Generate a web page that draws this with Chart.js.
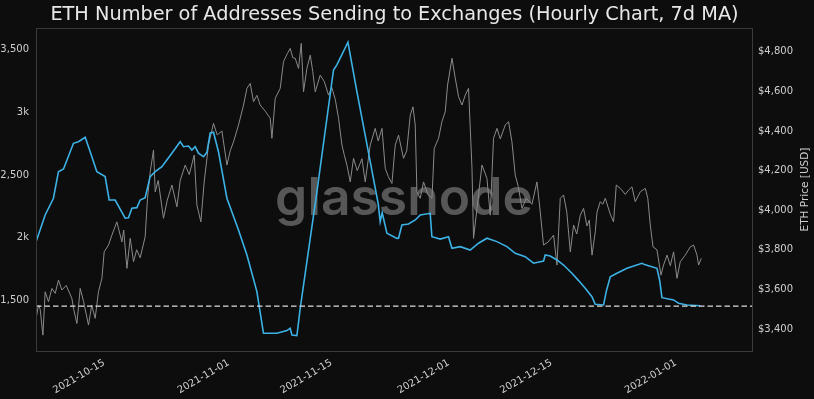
<!DOCTYPE html>
<html>
<head>
<meta charset="utf-8">
<script src="https://cdn.jsdelivr.net/npm/chart.js@4.4.1/dist/chart.umd.min.js"></script>
<style>
  html, body { margin: 0; padding: 0; background: #0d0d0d; }
  #wrap { width: 814px; height: 399px; }
</style>
</head>
<body>
<div id="wrap"><canvas id="chart" width="814" height="399"></canvas></div>
<script>
// x values are days since 2021-10-01 00:00
const addrDays = [
  4.72, 5.95, 7.08, 7.76, 8.45, 9.81, 10.49, 11.41, 12.09, 13.0,
  14.13, 14.68, 15.5, 16.86, 17.31, 17.78, 18.46, 18.91, 19.59, 20.27,
  20.96, 21.87, 23.23, 24.37, 24.82, 25.5, 25.96, 26.41, 26.86, 27.55,
  28.01, 28.46, 28.91, 29.59, 30.74, 32.32, 33.47, 34.83, 35.73, 37.56,
  38.92, 39.37, 39.61, 40.29, 40.74, 43.02, 45.28, 45.74, 47.25, 48.47,
  50.29, 51.38, 51.65, 51.92, 52.57, 53.93, 54.15, 54.61, 55.51, 56.43,
  57.11, 58.47, 58.7, 59.84, 60.97, 61.43, 62.57, 63.93, 65.06, 66.21,
  67.57, 68.94, 70.07, 71.43, 72.57, 73.93, 74.16, 74.84, 75.76, 76.66,
  77.8, 78.71, 79.62, 80.53, 80.98, 82.12, 82.48, 83.03, 83.94, 85.31,
  87.35, 87.81, 89.4, 89.76, 90.08, 91.67, 92.35, 93.49, 95.31
];
const addrValues = [
  1970, 2182, 2315, 2526, 2548, 2752, 2765, 2800, 2685, 2526,
  2487, 2301, 2301, 2156, 2160, 2235, 2240, 2301, 2320, 2487,
  2526, 2566, 2673, 2765, 2725, 2730, 2699, 2725, 2673, 2646,
  2680, 2835, 2840, 2685, 2315, 2063, 1864, 1572, 1241, 1241,
  1262, 1280, 1227, 1222, 1440, 2367, 3335, 3375, 3556, 3163,
  2606, 2270, 2128, 2200, 2036, 1996, 1997, 2102, 2110, 2142,
  2182, 2195, 2009, 1990, 2009, 1917, 1930, 1903, 1957, 1997,
  1970, 1930, 1877, 1850, 1798, 1816, 1864, 1855, 1824, 1784,
  1718, 1660, 1599, 1532, 1471, 1466, 1572, 1691, 1718, 1758,
  1798, 1785, 1758, 1665, 1524, 1506, 1479, 1466, 1460
];

const priceDays = [
  4.72, 5.04, 5.27, 5.64, 5.95, 6.40, 6.87, 7.32, 7.77, 8.23,
  8.82, 9.59, 9.84, 10.28, 10.73, 11.18, 11.86, 12.30, 12.77, 13.22,
  13.69, 14.00, 14.59, 15.05, 15.73, 16.42, 16.66, 17.10, 17.55, 18.00,
  18.43, 18.91, 19.59, 19.91, 20.28, 20.73, 20.96, 21.37, 22.09, 22.60,
  23.24, 23.92, 24.37, 25.05, 25.60, 26.28, 26.65, 27.19, 27.64, 28.23,
  28.91, 29.42, 30.06, 30.74, 31.19, 31.64, 32.32, 33.01, 33.47, 33.92,
  34.37, 34.83, 35.28, 35.97, 36.65, 36.88, 37.33, 38.01, 38.46, 38.97,
  39.38, 39.72, 40.06, 40.51, 40.88, 41.19, 41.65, 42.11, 42.45, 42.79,
  43.47, 44.02, 44.60, 45.04, 45.52, 45.97, 46.43, 46.74, 47.11, 47.56,
  48.01, 48.52, 49.16, 49.61, 50.29, 50.97, 51.38, 51.89, 52.34, 52.75,
  53.25, 53.70, 54.15, 54.83, 55.27, 55.75, 56.12, 56.43, 56.66, 57.11,
  57.56, 58.14, 58.71, 59.02, 59.61, 60.07, 60.52, 60.84, 61.44, 61.89,
  62.34, 62.80, 63.25, 63.70, 64.17, 64.38, 64.85, 65.53, 66.21, 66.66,
  67.11, 67.58, 68.03, 68.71, 69.16, 69.62, 70.07, 70.48, 70.99, 71.57,
  72.35, 73.03, 73.48, 73.93, 74.57, 75.30, 75.76, 76.21, 76.66, 77.10,
  77.58, 78.03, 78.46, 78.94, 79.39, 79.85, 80.17, 80.54, 80.99, 81.22,
  81.67, 82.01, 82.35, 83.03, 83.48, 83.85, 84.40, 85.08, 85.49, 85.99,
  86.44, 87.13, 87.81, 88.15, 88.49, 88.86, 89.40, 89.95, 90.30, 90.77,
  91.22, 91.67, 92.13, 92.58, 93.26, 93.95, 94.40, 94.86, 95.08, 95.45
];
const priceValues = [
  3454, 3521, 3500, 3369, 3588, 3538, 3605, 3580, 3647, 3597,
  3620, 3555, 3500, 3428, 3605, 3540, 3420, 3520, 3454, 3588,
  3656, 3790, 3824, 3874, 3941, 3840, 3900, 3706, 3858, 3740,
  3800, 3760, 3866, 4060, 4194, 4304, 4093, 4150, 3959, 4050,
  4127, 4017, 4150, 4228, 4180, 4278, 4026, 3941, 4143, 4329,
  4438, 4380, 4400, 4228, 4300, 4345, 4430, 4531, 4615, 4640,
  4548, 4580, 4531, 4500, 4464, 4363, 4565, 4615, 4750, 4790,
  4817, 4770, 4767, 4716, 4842, 4598, 4716, 4783, 4700, 4598,
  4682, 4650, 4581, 4620, 4560, 4464, 4329, 4280, 4228, 4143,
  4262, 4200, 4260, 4143, 4329, 4413, 4350, 4413, 4211, 4170,
  4135, 4329, 4379, 4262, 4300, 4480, 4522, 4430, 4093, 4060,
  4143, 4080, 4060, 4312, 4363, 4447, 4497, 4632, 4767, 4666,
  4573, 4531, 4581, 4615, 4211, 3858, 4009, 4228, 4161, 3975,
  4363, 4413, 4360, 4430, 4447, 4345, 4177, 4120, 4009, 4060,
  4030, 4143, 3992, 3824, 3840, 3874, 3723, 4060, 4077, 3990,
  3790, 3925, 3880, 3975, 4009, 3920, 3950, 3773, 3891, 3990,
  4043, 4030, 4060, 3980, 3941, 4127, 4110, 4080, 4100, 4118,
  4043, 4093, 4110, 4060, 3925, 3815, 3800, 3672, 3723, 3773,
  3720, 3790, 3656, 3740, 3773, 3815, 3824, 3773, 3723, 3757
];

const baselineValue = 1457;

const xTickDays = [14, 31, 45, 61, 75, 92];
const xTickLabels = ['2021-10-15', '2021-11-01', '2021-11-15', '2021-12-01', '2021-12-15', '2022-01-01'];
const addrTicks = [1500, 2000, 2500, 3000, 3500];
const addrTickLabels = ['1,500', '2k', '2,500', '3k', '3,500'];
const priceTicks = [3400, 3600, 3800, 4000, 4200, 4400, 4600, 4800];
const priceTickLabels = ['$3,400', '$3,600', '$3,800', '$4,000', '$4,200', '$4,400', '$4,600', '$4,800'];

const X_MIN = 4.7, X_MAX = 102.5;
const FONT = 'DejaVu Sans';

const toPoints = (xs, ys) => xs.map((x, i) => ({ x: x, y: ys[i] }));

// background, frame, title, watermark, right axis title
const decor = {
  id: 'decor',
  beforeDraw(chart) {
    const ctx = chart.ctx;
    ctx.save();
    ctx.fillStyle = '#0d0d0d';
    ctx.fillRect(0, 0, chart.width, chart.height);
    ctx.restore();
  },
  beforeDatasetsDraw(chart) {
    const ctx = chart.ctx;
    ctx.save();
    ctx.font = '600 50px Inter';
    const w = ctx.measureText('glassnode').width;
    // uniform size so the word is ~258px wide
    const size = 50 * 258 / w;
    ctx.font = '600 ' + size.toFixed(1) + 'px Inter';
    ctx.fillStyle = '#575757';
    ctx.textAlign = 'center';
    ctx.textBaseline = 'alphabetic';
    ctx.fillText('glassnode', 404, 215);
    ctx.restore();
  },
  afterDraw(chart) {
    const ctx = chart.ctx;
    const a = chart.chartArea;
    ctx.save();
    ctx.strokeStyle = '#3a3a3a';
    ctx.lineWidth = 1;
    ctx.strokeRect(a.left + 0.5, a.top + 0.5, a.right - a.left - 1, a.bottom - a.top);

    ctx.fillStyle = '#e8e8e8';
    ctx.font = '19.3px "' + FONT + '"';
    ctx.textAlign = 'center';
    ctx.textBaseline = 'alphabetic';
    ctx.fillText('ETH Number of Addresses Sending to Exchanges (Hourly Chart, 7d MA)', (a.left + a.right) / 2, 19.5);

    ctx.fillStyle = '#cfcfcf';
    ctx.font = '10.5px "' + FONT + '"';
    ctx.translate(805, (a.top + a.bottom) / 2);
    ctx.rotate(-Math.PI / 2);
    ctx.textBaseline = 'middle';
    ctx.fillText('ETH Price [USD]', 0, 0);
    ctx.restore();
  }
};

const tickFont = { family: FONT, size: 10 };

new Chart(document.getElementById('chart'), {
  type: 'line',
  data: {
    datasets: [
      {
        label: 'Baseline',
        data: toPoints([X_MIN, X_MAX], [baselineValue, baselineValue]),
        yAxisID: 'y',
        borderColor: '#dcdcdc',
        borderWidth: 1.4,
        borderDash: [5.5, 3],
        pointRadius: 0,
        order: 0
      },
      {
        label: 'Addresses Sending to Exchanges',
        data: toPoints(addrDays, addrValues),
        yAxisID: 'y',
        borderColor: '#3cb2e6',
        borderWidth: 1.6,
        pointRadius: 0,
        order: 1
      },
      {
        label: 'ETH Price',
        data: toPoints(priceDays, priceValues),
        yAxisID: 'yPrice',
        borderColor: '#8a8a8a',
        borderWidth: 1,
        pointRadius: 0,
        order: 2
      }
    ]
  },
  options: {
    responsive: false,
    animation: false,
    devicePixelRatio: 1,
    layout: { padding: { top: 28, left: 0, right: 0, bottom: 0 } },
    plugins: { legend: { display: false }, tooltip: { enabled: false }, title: { display: false } },
    scales: {
      x: {
        type: 'linear',
        min: X_MIN,
        max: X_MAX,
        grid: { display: false, drawTicks: false },
        border: { display: false },
        afterBuildTicks: s => { s.ticks = xTickDays.map(v => ({ value: v })); },
        afterFit: s => { s.height = 48; },
        ticks: {
          color: '#cfcfcf',
          font: tickFont,
          autoSkip: false,
          minRotation: 30,
          maxRotation: 30,
          padding: 6,
          callback: v => xTickLabels[xTickDays.indexOf(v)]
        }
      },
      y: {
        position: 'left',
        min: 1100,
        max: 3669,
        grid: { display: false, drawTicks: false },
        border: { display: false },
        afterBuildTicks: s => { s.ticks = addrTicks.map(v => ({ value: v })); },
        afterFit: s => { s.width = 36; },
        ticks: {
          color: '#cfcfcf',
          font: tickFont,
          padding: 7,
          callback: v => addrTickLabels[addrTicks.indexOf(v)]
        }
      },
      yPrice: {
        position: 'right',
        min: 3289,
        max: 4920,
        grid: { display: false, drawTicks: false },
        border: { display: false },
        afterBuildTicks: s => { s.ticks = priceTicks.map(v => ({ value: v })); },
        afterFit: s => { s.width = 61; },
        ticks: {
          color: '#cfcfcf',
          font: tickFont,
          padding: 5,
          callback: v => priceTickLabels[priceTicks.indexOf(v)]
        }
      }
    }
  },
  plugins: [decor]
});
</script>
</body>
</html>
